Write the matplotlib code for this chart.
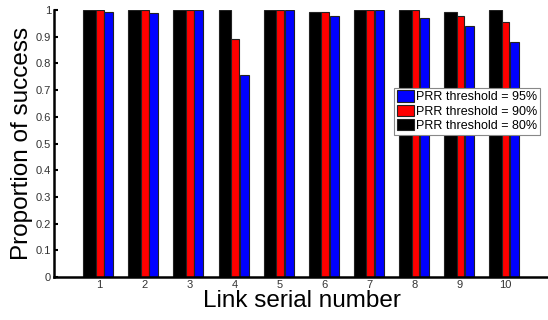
import matplotlib
matplotlib.use("Agg")
import matplotlib.pyplot as plt
import numpy as np

links = [1, 2, 3, 4, 5, 6, 7, 8, 9, 10]
prr80 = [1.0, 1.0, 1.0, 1.0, 1.0, 0.993, 1.0, 1.0, 0.993, 1.0]
prr90 = [0.999, 0.998, 1.0, 0.89, 0.998, 0.991, 1.0, 1.0, 0.979, 0.956]
prr95 = [0.991, 0.99, 1.0, 0.755, 0.998, 0.979, 1.0, 0.971, 0.941, 0.881]
labels = ["PRR threshold = 95%", "PRR threshold = 90%", "PRR threshold = 80%"]

plt.rcParams['font.family'] = ['Liberation Sans', 'DejaVu Sans']

fig = plt.figure(figsize=(5.48, 3.2), dpi=100)
ax = fig.add_axes([0.0985, 0.134, 0.905, 0.835])

x = np.array(links, dtype=float)
ec = '#222222'
b80 = ax.bar(x - 0.21, prr80, width=0.28, color='black', edgecolor=ec, linewidth=0.8, zorder=2)
b90 = ax.bar(x + 0.015, prr90, width=0.17, color='#ff0000', edgecolor=ec, linewidth=0.8, zorder=3)
b95 = ax.bar(x + 0.215, prr95, width=0.2, color='#0000ff', edgecolor=ec, linewidth=0.8, zorder=3)

ax.set_xlim(0, 11)
ax.set_ylim(0, 1)
ax.set_xticks(links)
ax.set_yticks(np.round(np.arange(0, 1.01, 0.1), 1))
ax.set_yticklabels(['0', '0.1', '0.2', '0.3', '0.4', '0.5', '0.6', '0.7', '0.8', '0.9', '1'])

for s in ['top', 'right']:
    ax.spines[s].set_visible(False)
for s in ['left', 'bottom']:
    ax.spines[s].set_linewidth(1.8)
    ax.spines[s].set_zorder(5)

ax.tick_params(axis='both', direction='in', length=3, width=1.5, labelsize=8,
               labelcolor='#333333', pad=2)

ax.set_ylabel('Proportion of success', fontsize=17.5, labelpad=2)
ax.set_xlabel('Link serial number', fontsize=17.5, labelpad=0)

leg = ax.legend([b95, b90, b80], labels, loc='upper right',
                bbox_to_anchor=(0.98, 0.708), borderaxespad=0,
                fontsize=9, frameon=True, fancybox=False, framealpha=1,
                edgecolor='#888888', handlelength=1.4, handleheight=1.0,
                handletextpad=0.15, borderpad=0.2, labelspacing=0.12)
leg.get_frame().set_linewidth(0.8)
leg.set_zorder(10)

fig.savefig('out.png', dpi=100)
